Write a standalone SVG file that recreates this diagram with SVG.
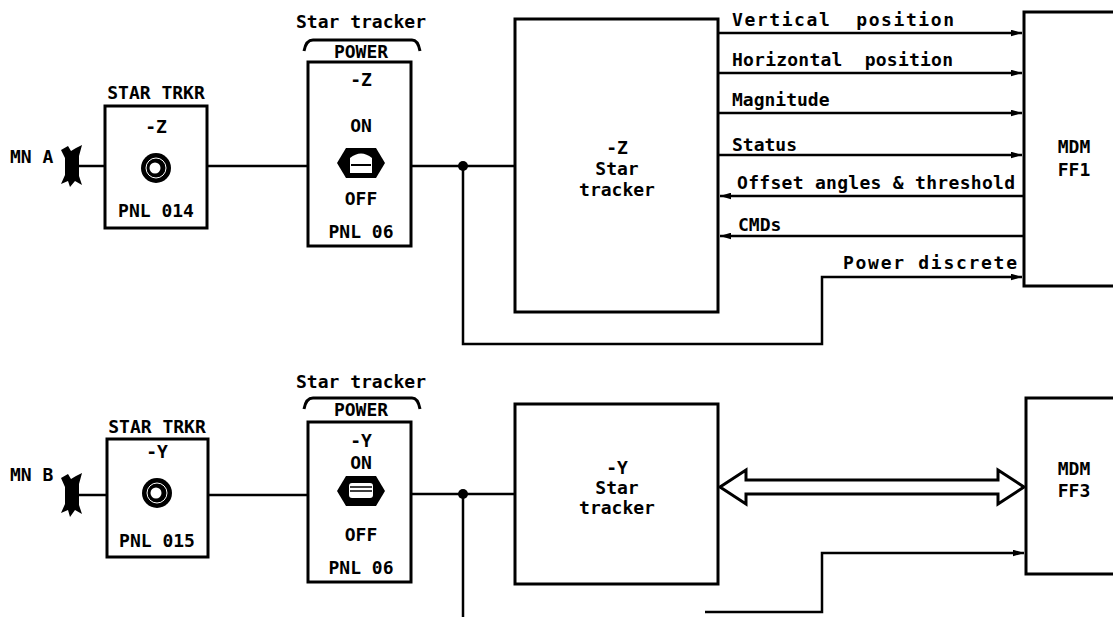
<svg xmlns="http://www.w3.org/2000/svg" width="1113" height="617" viewBox="0 0 1113 617">
<style>
text{font-family:"DejaVu Sans Mono","Liberation Mono",monospace;font-weight:bold;font-size:18px;fill:#000;white-space:pre}
.c{text-anchor:middle}
.box{fill:none;stroke:#000;stroke-width:3}
.ln{fill:none;stroke:#000;stroke-width:2.5}
</style>
<defs>
<marker id="ah" viewBox="0 0 10 6" refX="10" refY="3" markerWidth="11" markerHeight="7" markerUnits="userSpaceOnUse" orient="auto">
<path d="M0,0 L10,3 L0,6 Z" fill="#000"/>
</marker>
</defs>
<rect width="1113" height="617" fill="#fff"/>

<g id="connectors">
<path class="ln" d="M78,166 H105"/>
<path class="ln" d="M207,166 H308"/>
<path class="ln" d="M411,166 H515"/>
<circle cx="463" cy="166" r="5" fill="#000"/>
<path class="ln" d="M463,166 V344 H822 V277 H1022" marker-end="url(#ah)"/>
<path class="ln" d="M718,33 H1022" marker-end="url(#ah)"/>
<path class="ln" d="M718,73 H1022" marker-end="url(#ah)"/>
<path class="ln" d="M718,113 H1022" marker-end="url(#ah)"/>
<path class="ln" d="M718,155 H1022" marker-end="url(#ah)"/>
<path class="ln" d="M1024,196 H720" marker-end="url(#ah)"/>
<path class="ln" d="M1024,236 H720" marker-end="url(#ah)"/>
<path class="ln" d="M78,495 H107"/>
<path class="ln" d="M208,495 H308"/>
<path class="ln" d="M411,494 H515"/>
<circle cx="463" cy="494" r="5" fill="#000"/>
<path class="ln" d="M463,494 V617"/>
<path class="ln" d="M705,612 H822 V553 H1024" marker-end="url(#ah)"/>
<polygon points="720,487 746,470 746,480 998,480 998,470 1024,487 998,504 998,494 746,494 746,504" fill="#fff" stroke="#000" stroke-width="3" stroke-linejoin="miter"/>
<text x="732" y="26" xml:space="preserve" textLength="222">Vertical  position</text>
<text x="732" y="66" xml:space="preserve" textLength="221">Horizontal  position</text>
<text x="732" y="106">Magnitude</text>
<text x="732" y="151">Status</text>
<text x="737" y="189" textLength="278">Offset angles &amp; threshold</text>
<text x="738" y="231">CMDs</text>
<text x="843" y="269" textLength="174">Power discrete</text>
</g>

<g id="mn-a">
<text x="10" y="163">MN A</text>
<path d="M61,150 L68,146 L71,151 L76,148 L82,145 L79,156 L79,176 L82,185 L75,181 L70,187 L68,181 L61,184 L65,175 L65,158 Z" fill="#000"/>
</g>

<g id="star-trkr-z">
<text class="c" x="156" y="99">STAR TRKR</text>
<rect class="box" x="105" y="106" width="102" height="122"/>
<text class="c" x="156" y="133">-Z</text>
<circle cx="156" cy="168" r="15" fill="#000"/>
<circle cx="156" cy="168" r="10" fill="none" stroke="#fff" stroke-width="1"/>
<circle cx="155" cy="168" r="5.5" fill="#fff"/>
<text class="c" x="156" y="217">PNL 014</text>
</g>

<g id="power-z">
<text class="c" x="361" y="28">Star tracker</text>
<path d="M304,51 Q306,40 313,40 L412,40 Q418,40 420,51" fill="none" stroke="#000" stroke-width="3"/>
<text class="c" x="361" y="58">POWER</text>
<rect class="box" x="308" y="62" width="103" height="184"/>
<text class="c" x="361" y="86">-Z</text>
<text class="c" x="361" y="132">ON</text>
<polygon points="337,163 346,148 376,148 385,163 376,178 346,178" fill="#000"/>
<path d="M350,158 Q361,149 372,158 L372,173 L350,173 Z" fill="#fff"/>
<path d="M351,165 H371" stroke="#000" stroke-width="2"/>
<text class="c" x="361" y="205">OFF</text>
<text class="c" x="361" y="238">PNL 06</text>
</g>

<g id="tracker-z">
<rect class="box" x="515" y="19" width="203" height="293"/>
<text class="c" x="617" y="154">-Z</text>
<text class="c" x="617" y="175">Star</text>
<text class="c" x="617" y="196">tracker</text>
</g>

<g id="mdm-ff1">
<path class="box" d="M1115,12 H1024 V286 H1115"/>
<text class="c" x="1074" y="153">MDM</text>
<text class="c" x="1074" y="176">FF1</text>
</g>

<g id="mn-b">
<text x="10" y="481">MN B</text>
<path d="M61,478 L68,474 L71,479 L76,476 L82,473 L79,484 L79,505 L82,514 L75,510 L70,517 L68,510 L61,513 L65,504 L65,487 Z" fill="#000"/>
</g>

<g id="star-trkr-y">
<text class="c" x="157" y="433">STAR TRKR</text>
<rect class="box" x="107" y="439" width="101" height="118"/>
<text class="c" x="157" y="458">-Y</text>
<circle cx="157" cy="493" r="15" fill="#000"/>
<circle cx="157" cy="493" r="10" fill="none" stroke="#fff" stroke-width="1"/>
<circle cx="156" cy="493" r="5.5" fill="#fff"/>
<text class="c" x="157" y="547">PNL 015</text>
</g>

<g id="power-y">
<text class="c" x="361" y="388">Star tracker</text>
<path d="M304,409 Q306,398 313,398 L412,398 Q418,398 420,409" fill="none" stroke="#000" stroke-width="3"/>
<text class="c" x="361" y="416">POWER</text>
<rect class="box" x="308" y="422" width="103" height="160"/>
<text class="c" x="361" y="447">-Y</text>
<text class="c" x="361" y="469">ON</text>
<polygon points="337,491 346,476 376,476 385,491 376,506 346,506" fill="#000"/>
<rect x="349" y="483" width="24" height="15" rx="3" fill="#fff"/>
<path d="M350,487 H372 M350,491 H372" stroke="#000" stroke-width="1.5"/>
<text class="c" x="361" y="541">OFF</text>
<text class="c" x="361" y="574">PNL 06</text>
</g>

<g id="tracker-y">
<rect class="box" x="515" y="404" width="203" height="180"/>
<text class="c" x="617" y="474">-Y</text>
<text class="c" x="617" y="494">Star</text>
<text class="c" x="617" y="514">tracker</text>
</g>

<g id="mdm-ff3">
<path class="box" d="M1115,398 H1026 V574 H1115"/>
<text class="c" x="1074" y="475">MDM</text>
<text class="c" x="1074" y="497">FF3</text>
</g>
</svg>
